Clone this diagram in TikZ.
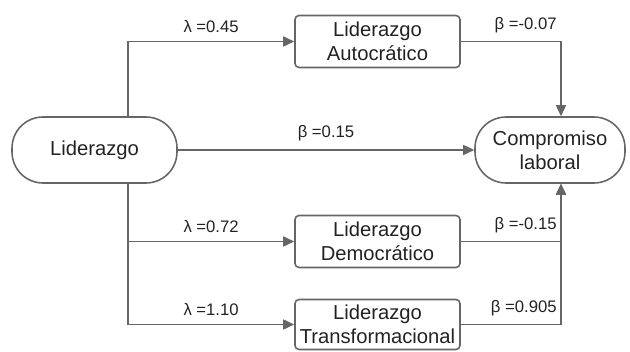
\documentclass[tikz,border=0pt]{standalone}
\usepackage{fontspec}
\setmainfont{Liberation Sans}
\usepackage{xcolor}
\usepackage{tikz}
\usetikzlibrary{positioning,calc,arrows.meta}
\definecolor{linegray}{HTML}{666666}
\definecolor{textgray}{HTML}{222222}

\begin{document}
\begin{tikzpicture}[x=0.02cm, y=-0.02cm,
        font=\fontsize{11.5}{13.5}\selectfont, text=textgray,
        latent/.style={draw=linegray, line width=0.9pt, rounded corners=0.62cm, minimum height=1.32cm, align=center},
        factor/.style={draw=linegray, line width=0.9pt, rounded corners=0.08cm, minimum width=3.3cm, minimum height=1.04cm, align=center, inner sep=1pt},
        path/.style={draw=linegray, line width=0.9pt, -{Triangle[length=2.2mm, width=2mm]}},
        coef/.style={font=\fontsize{9.5}{11}\selectfont, inner sep=2pt, yshift=2.5pt}]
        \useasboundingbox (0,0) rectangle (630,352);
        
        \node[latent, minimum width=3.3cm] (lid) at (94.5,150) {Liderazgo};
        \node[latent, minimum width=3.0cm] (com) at (550,150) {Compromiso\\laboral};
        
        \node[factor] (aut) at (377.5,41.5) {Liderazgo\\Autocrático};
        \node[factor] (dem) at (377.5,241.5) {Liderazgo\\Democrático};
        \node[factor, minimum height=1.0cm] (tra) at (377.5,324.5) {Liderazgo\\Transformacional};
        
        % Liderazgo -> estilos
        \draw[path] ([xshift=0.67cm]lid.north) |- (aut.west) node[coef, pos=0.75, above] {λ =0.45};
        \draw[path] ([xshift=0.67cm]lid.south) |- (dem.west) node[coef, pos=0.75, above] {λ =0.72};
        \draw[path] ([xshift=0.67cm]lid.south) |- (tra.west) node[coef, pos=0.75, above] {λ =1.10};
        
        % efecto directo
        \draw[path] (lid) -- (com) node[coef, midway, above] {β =0.15};
        
        % estilos -> Compromiso laboral
        \draw[path] (aut.east) -| ([xshift=0.22cm]com.north) node[coef, pos=0.5, anchor=south east] {β =-0.07};
        \draw[path] (dem.east) -| ([xshift=0.22cm]com.south) node[coef, pos=0.5, anchor=south east] {β =-0.15};
        \draw[path] (tra.east) -| ([xshift=0.22cm]com.south) node[coef, pos=0.5, anchor=south east] {β =0.905};
    \end{tikzpicture}
\end{document}
